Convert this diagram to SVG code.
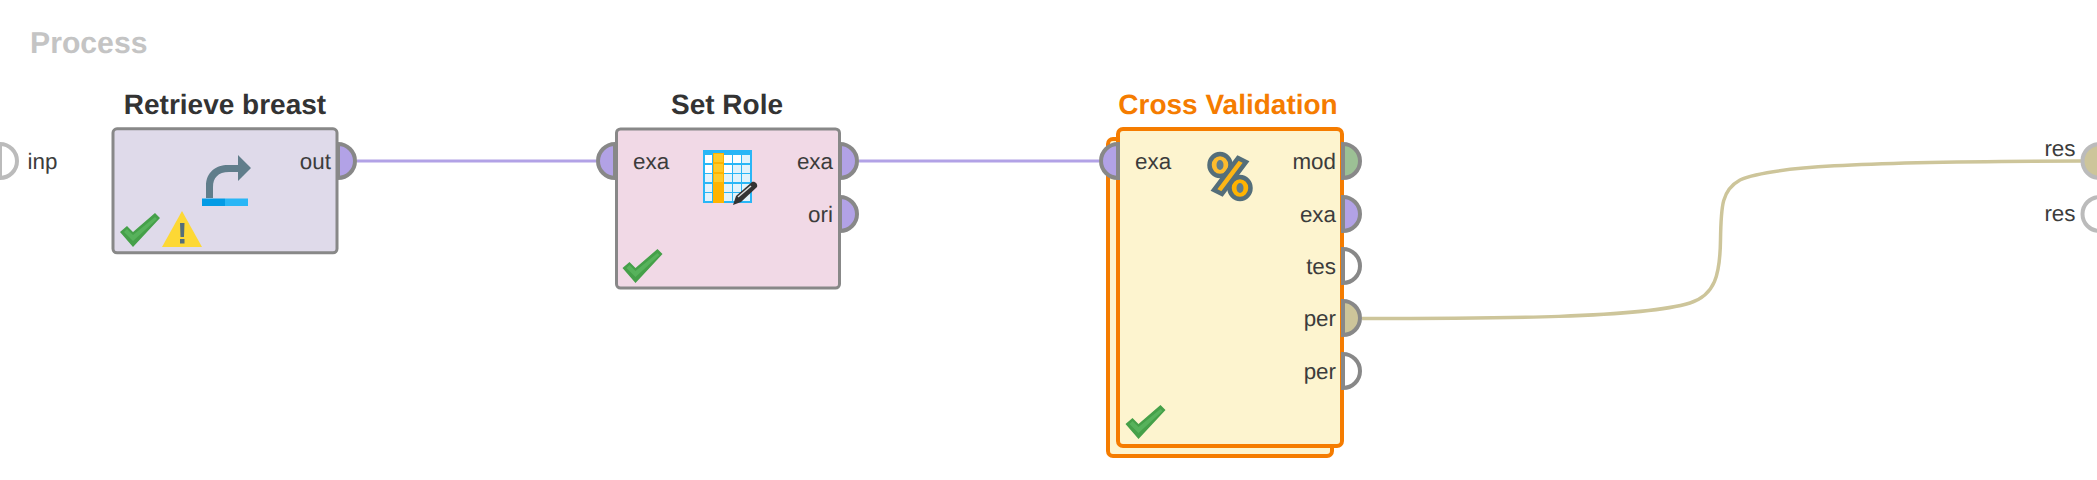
<svg xmlns="http://www.w3.org/2000/svg" width="2097" height="480" viewBox="0 0 2097 480">
<style>
text{font-family:"Liberation Sans",Arial,sans-serif;text-rendering:geometricPrecision}
.t{font-size:28px;font-weight:bold;fill:#333;text-anchor:middle}
.l{font-size:22.4px;fill:#3c3c3c}
.e{text-anchor:end}
.b{stroke:#888;stroke-width:3}
.o{stroke:#f57c00;stroke-width:4;fill:#fdf4cf}
.p{stroke:#888;stroke-width:4}
.q{stroke:#bbb;stroke-width:4}
.w{fill:none;stroke-width:3}
.ex{fill:#b2a2e6}.nf{fill:#fff}.pf{fill:#cdc59a}.mf{fill:#9cc095}
</style>
<defs>
<path id="pr" d="M0 -17A17 17 0 0 1 0 17Z"/>
<path id="pl" d="M0 -17A17 17 0 0 0 0 17Z"/>
<g id="chk">
<path d="M0 0L7 -6L13 0L35 -19L40 -14L13 15Z" fill="#45a049"/>
<path d="M4 0L7 -3L13 3L35 -15L37 -13L13 9Z" fill="#57b25b"/>
</g>
</defs>
<text x="30" y="53" font-weight="bold" fill="#c4c4c4" style="font-size:30.200px">Process</text>
<g id="connectors">
<path class="w" stroke="#b2a2e6" d="M357 161H596"/>
<path class="w" stroke="#b2a2e6" d="M859 161H1099"/>
<path class="w" stroke="#cdc59a" style="stroke-width:3.500px" d="M1362 318.500C1500 318.500 1640 318 1690 303C1715 295 1720 275 1720.500 240C1721 205 1722 190 1740 180C1768 167 1850 161.500 2081 161"/>
</g>
<g id="process-input-inp">
<path class="q nf" transform="translate(0,161)" d="M0 -17A17 17 0 0 1 0 17Z"/>
<text class="l" x="27.500" y="168.500">inp</text>
</g>
<g id="retrieve-breast">
<text class="t" x="225" y="114">Retrieve breast</text>
<rect class="b" x="113" y="128.800" width="224" height="124" rx="4" fill="#dfdaea"/>
<use href="#pr" class="p ex" x="338" y="161"/>
<text class="l e" x="331" y="168.500">out</text>
<path d="M206 198V186C206 172 216 165 228 165H238V155L251 168L238 181V172H229C218 172 213 178 213 187V198Z" fill="#607d8b"/>
<rect x="202" y="198.500" width="23" height="7.500" fill="#039be5"/>
<rect x="225" y="198.500" width="23" height="7.500" fill="#29b6f6"/>
<use href="#chk" x="120" y="232"/>
<path d="M182 211L202 247H162Z" fill="#fdd835"/>
<path d="M180 223H184.500L184 237H180.500Z M180 239H184.500V243.500H180Z" fill="#546e7a"/>
</g>
<g id="set-role">
<text class="t" x="727" y="114">Set Role</text>
<rect class="b" x="616.500" y="129" width="223" height="159" rx="4" fill="#f1d9e6"/>
<use href="#pl" class="p ex" x="615" y="161"/>
<text class="l" x="633" y="168.500">exa</text>
<use href="#pr" class="p ex" x="840" y="161"/>
<text class="l e" x="833" y="168.500">exa</text>
<use href="#pr" class="p ex" x="840" y="214"/>
<text class="l e" x="833" y="221.500">ori</text>
<rect x="703" y="150" width="49" height="53" fill="#29b6f6"/>
<path d="M705 155h7v8h-7zM705 165h7v8h-7zM705 174h7v8h-7zM705 184h7v8h-7zM705 193h7v8h-7zM724 155h8v8h-8zM733 155h8v8h-8zM742 155h8v8h-8zM724 165h8v8h-8zM733 165h8v8h-8zM742 165h8v8h-8zM724 174h8v8h-8zM733 174h8v8h-8zM742 174h8v8h-8zM724 184h8v8h-8zM733 184h8v8h-8zM742 184h8v8h-8zM724 193h8v8h-8zM733 193h8v8h-8zM742 193h8v8h-8z" fill="#e3f3fb"/>
<path d="M705 155h7v8h-7zM705 165h7v8h-7zM724 155h8v8h-8zM733 155h8v8h-8zM724 165h8v8h-8z" fill="#fff"/>
<rect x="713" y="153" width="11" height="50" fill="#ffb300"/>
<path d="M714 154h9v8h-9zM714 164h9v8h-9zM714 174h9v8h-9z" fill="#ffca28"/>
<path d="M733 205L736 196L752 182C755 181 758 184 757 187L741 202Z" fill="#333"/>
<path d="M738 197L751 186" stroke="#ddd" stroke-width="1.500" fill="none"/>
<use href="#chk" x="622.500" y="268"/>
</g>
<g id="cross-validation">
<text class="t" x="1228" y="114" style="fill:#f57c00">Cross Validation</text>
<rect class="o" x="1108" y="139" width="224" height="317" rx="5"/>
<rect class="o" x="1118" y="129" width="224" height="317" rx="5"/>
<use href="#pl" class="p ex" x="1118" y="161"/>
<text class="l" x="1135" y="168.500">exa</text>
<use href="#pr" class="p mf" x="1343" y="161"/>
<text class="l e" x="1336" y="168.500">mod</text>
<use href="#pr" class="p ex" x="1343" y="214"/>
<text class="l e" x="1336" y="221.500">exa</text>
<use href="#pr" class="p nf" x="1343" y="266"/>
<text class="l e" x="1336" y="273.500">tes</text>
<use href="#pr" class="p pf" x="1343" y="318"/>
<text class="l e" x="1336" y="325.500">per</text>
<use href="#pr" class="p nf" x="1343" y="371"/>
<text class="l e" x="1336" y="378.500">per</text>
<g stroke="#546e7a" stroke-width="4.500">
<ellipse cx="1220" cy="165" rx="10.500" ry="11" fill="#fdbb2d"/>
<ellipse cx="1240" cy="188" rx="10.500" ry="11" fill="#ffb300"/>
<path d="M1238 158L1246 162L1222 194L1214 190Z" fill="#fdb515"/>
</g>
<ellipse cx="1220" cy="165" rx="3.500" ry="5" fill="#607d8b"/>
<ellipse cx="1240" cy="188" rx="3.500" ry="5" fill="#607d8b"/>
<use href="#chk" x="1125.500" y="424"/>
</g>
<g id="process-output-res">
<text class="l e" x="2075.500" y="155.500">res</text>
<use href="#pl" class="q pf" x="2099.500" y="161"/>
<text class="l e" x="2075.500" y="220.500">res</text>
<use href="#pl" class="q nf" x="2099.500" y="214"/>
</g>
</svg>
